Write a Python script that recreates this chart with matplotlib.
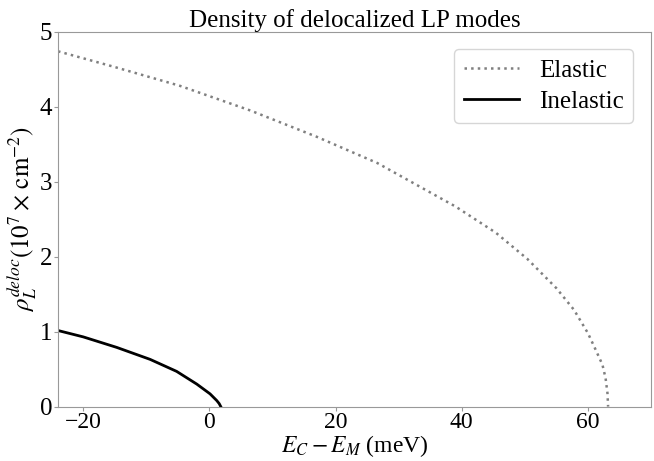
import matplotlib
matplotlib.use("Agg")
import matplotlib.pyplot as plt

# values
elastic_x = [-24, -15, -4.7, 6.5, 17, 26.6, 39, 45.4, 50.4, 55, 57.8, 60, 61, 62.3, 62.8, 63.1, 63.2]
elastic_y = [4.74, 4.53, 4.28, 3.95, 3.60, 3.25, 2.67, 2.32, 1.97, 1.58, 1.29, 0.98, 0.80, 0.56, 0.38, 0.18, 0.0]

inelastic_x = [-24, -20, -14.7, -9.4, -5.2, -2.0, 0.1, 1.17, 1.55, 1.8]
inelastic_y = [1.015, 0.93, 0.79, 0.63, 0.47, 0.30, 0.17, 0.08, 0.04, 0.0]

plt.rcParams['font.family'] = ['Liberation Serif', 'DejaVu Serif']
plt.rcParams['mathtext.fontset'] = 'stix'

fig = plt.figure(figsize=(6.54, 4.61), dpi=100)
ax = fig.add_axes([0.0887, 0.118, 0.9067, 0.813])

ax.plot(elastic_x, elastic_y, linestyle=':', color='gray', lw=1.8, label='Elastic')
ax.plot(inelastic_x, inelastic_y, color='black', lw=2, label='Inelastic')

ax.set_xlim(-24, 70)
ax.set_ylim(0, 5)
ax.set_xticks([-20, 0, 20, 40, 60])
ax.set_yticks([0, 1, 2, 3, 4, 5])
ax.tick_params(labelsize=18, color='#999999', length=3, pad=1)
ax.tick_params(axis='x', labelsize=17)
for s in ax.spines.values():
    s.set_color('#999999')

ax.set_title('Density of delocalized LP modes', fontsize=18, pad=3)
ax.set_xlabel(r'$E_C - E_M$ (meV)', fontsize=17, labelpad=0)
ax.set_ylabel(r'$\rho_L^{deloc}(10^7\times\,\mathrm{cm}^{-2})$', fontsize=18, labelpad=1)
ax.legend(loc='upper right', fontsize=18, handlelength=2.2,
          borderaxespad=0.7, labelspacing=0.35)

fig.savefig('out.png', dpi=100)
